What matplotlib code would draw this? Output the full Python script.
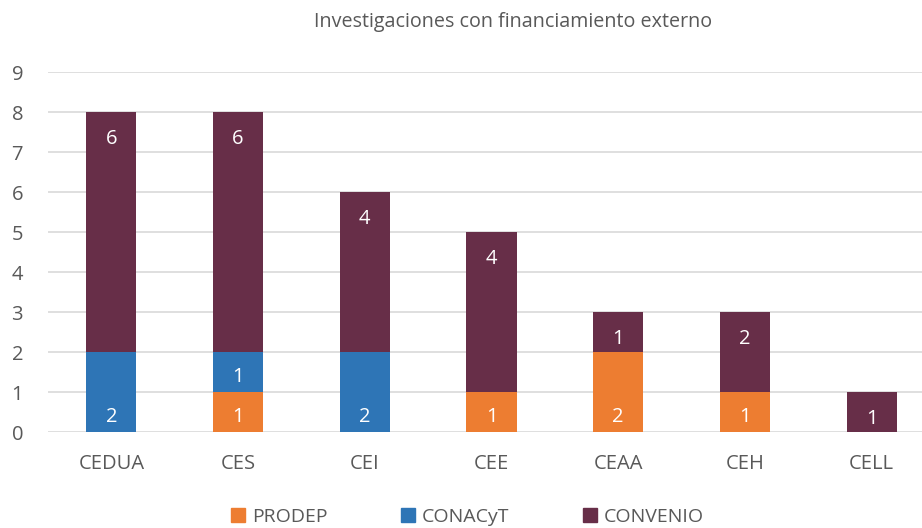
import matplotlib
matplotlib.use('Agg')
import matplotlib.pyplot as plt
import numpy as np
from matplotlib.patches import Patch

categories = ['CEDUA', 'CES', 'CEI', 'CEE', 'CEAA', 'CEH', 'CELL']
prodep   = [0, 1, 0, 1, 2, 1, 0]
conacyt  = [2, 1, 2, 0, 0, 0, 0]
convenio = [6, 6, 4, 4, 1, 2, 1]
series_names = ['PRODEP', 'CONACyT', 'CONVENIO']

C_PRO = '#ED7D31'
C_CON = '#2E75B6'
C_CNV = '#672E48'
TXT   = '#595959'
GRID  = '#D9D9D9'

plt.rcParams['font.family'] = ['Open Sans', 'DejaVu Sans']

W, H = 922, 528
fig = plt.figure(figsize=(W / 100, H / 100), dpi=100)
# plot area in pixels: x 48..935, y 72..432
ax = fig.add_axes([48 / W, 1 - 432 / H, 887 / W, 360 / H])

x = np.arange(len(categories))
bw = 0.395
bottom = np.zeros(len(categories))
series = [prodep, conacyt, convenio]
colors = [C_PRO, C_CON, C_CNV]
for i, (vals, col) in enumerate(zip(series, colors)):
    vals = np.array(vals, dtype=float)
    ax.bar(x, vals, bw, bottom=bottom, color=col, zorder=3)
    is_top = i == len(series) - 1
    for xi, v, b in zip(x, vals, bottom):
        if v > 0:
            # labels sit near the top of the top segment, near the base otherwise
            ly = b + v - 0.68 if is_top else b + 0.38
            ax.text(xi, ly, f'{int(v)}', ha='center', va='center',
                    color='white', fontsize=14.5, zorder=4)
    bottom += vals

ax.set_xlim(-0.5, len(categories) - 0.5)
ax.set_ylim(0, 9)
ax.set_yticks(range(10))
ax.yaxis.grid(True, color=GRID, linewidth=1.2, zorder=0)
ax.set_axisbelow(True)
for s in ax.spines.values():
    s.set_visible(False)
ax.tick_params(axis='both', length=0, labelsize=14.5, colors=TXT)
ax.tick_params(axis='y', pad=18)
ax.tick_params(axis='x', pad=15.5)
ax.set_xticks(x)
ax.set_xticklabels(categories)

fig.text(0.557, 1 - 22 / H, 'Investigaciones con financiamiento externo',
         ha='center', va='center', fontsize=14.2, color=TXT)

handles = [Patch(color=c) for c in colors]
fig.legend(handles, series_names, loc='center', ncol=3,
           bbox_to_anchor=(0.507, 1 - 517 / H), frameon=False,
           fontsize=14, labelcolor=TXT, handlelength=0.7, handleheight=0.7,
           handletextpad=0.35, columnspacing=3.8)

fig.savefig('out.png', dpi=100, facecolor='white')
